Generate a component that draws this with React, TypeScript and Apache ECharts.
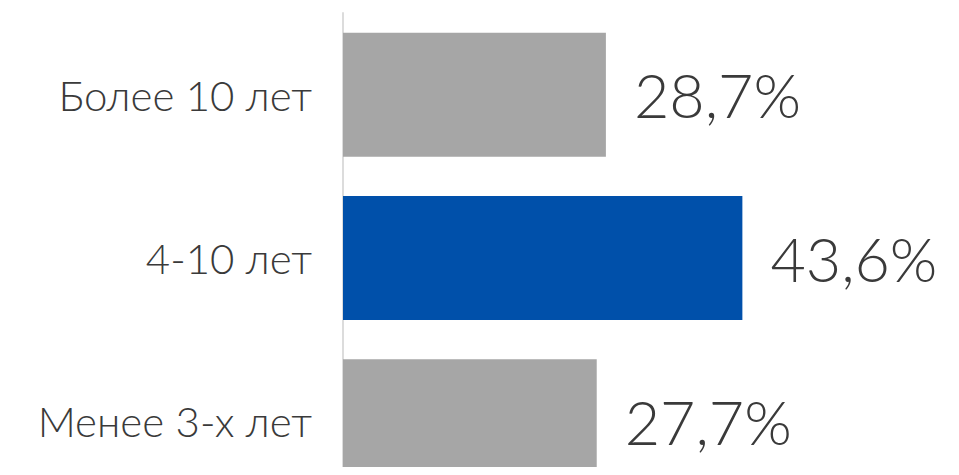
import React, { useEffect, useRef } from "react";
import * as echarts from "echarts";

const categories = ["Более 10 лет", "4-10 лет", "Менее 3-х лет"];
const values = [28.7, 43.6, 27.7];
const barColors = ["#a6a6a6", "#0050aa", "#a6a6a6"];

export default function App() {
  const ref = useRef<HTMLDivElement>(null);
  useEffect(() => {
    if (!ref.current) return;
    const chart = echarts.init(ref.current, null, { renderer: "svg" });
    chart.setOption({
      animation: false,
      backgroundColor: "#ffffff",
      grid: { left: 343, right: 158, top: 13, bottom: 17, outerBoundsMode: "none" },
      xAxis: {
        type: "value",
        min: 0,
        max: 50,
        show: false,
      },
      yAxis: {
        type: "category",
        data: categories,
        inverse: true,
        axisLine: { show: true, lineStyle: { color: "#dcdcdc", width: 2 } },
        axisTick: { show: false },
        axisLabel: {
          margin: 31,
          fontFamily: "Lato",
          fontWeight: 300,
          fontSize: 42,
          color: "#3a3a3a",
        },
      },
      series: [
        {
          type: "bar",
          barWidth: 124,
          data: values.map((v, i) => ({ value: v, itemStyle: { color: barColors[i] } })),
          label: {
            show: true,
            position: "right",
            distance: 28,
            fontFamily: "Lato",
            fontWeight: 300,
            fontSize: 61,
            color: "#3a3a3a",
            formatter: (p: any) => String(p.value).replace(".", ",") + "%",
          },
        },
      ],
    });
    return () => chart.dispose();
  }, []);
  return (
    <div style={{ width: 959, height: 475, overflow: "hidden", margin: -8 }}>
      <div ref={ref} style={{ width: 959, height: 520 }} />
    </div>
  );
}
